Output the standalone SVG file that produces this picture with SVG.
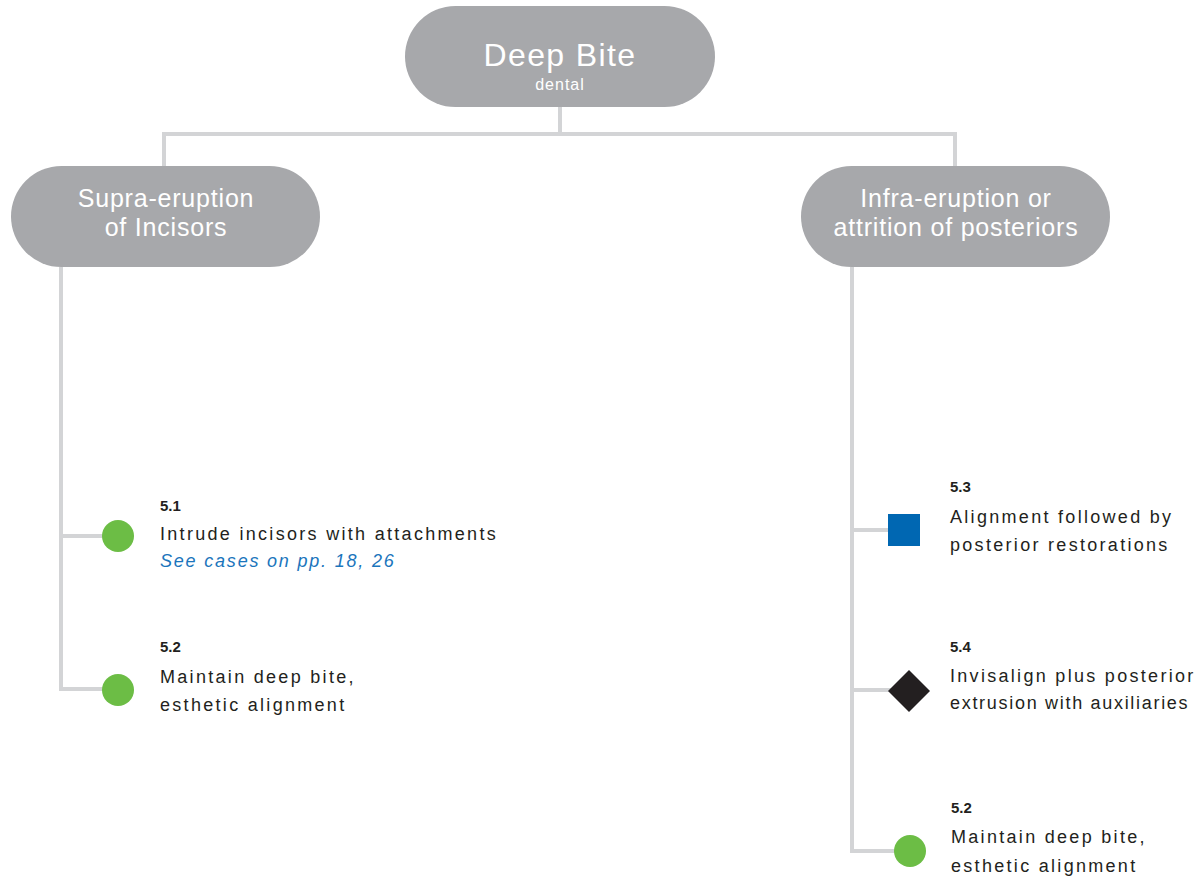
<svg xmlns="http://www.w3.org/2000/svg" width="1200" height="879" viewBox="0 0 1200 879">
<style>
.pill{fill:#a7a8ab}
.pt{font-family:"Liberation Sans",Arial,sans-serif;fill:#fff;text-anchor:middle}
.h2{font-size:25px;letter-spacing:0.8px}
.conn{fill:none;stroke:#d3d4d6;stroke-width:4}
.num{font-family:"Liberation Sans",Arial,sans-serif;font-weight:bold;font-size:15px;fill:#231f20}
.body{font-family:"Liberation Sans",Arial,sans-serif;font-size:18px;letter-spacing:2.3px;fill:#231f20}
.link{font-family:"Liberation Sans",Arial,sans-serif;font-size:18px;letter-spacing:1.8px;font-style:italic;fill:#1b75bc}
.green{fill:#6cbd45}
</style>
<rect width="1200" height="879" fill="#fff"/>
<g id="connectors" class="conn">
<path d="M560,107 V134 M164,166 V134 H955 V166"/>
<path d="M61,267 V689 H118 M61,536 H118"/>
<path d="M852,267 V851 H910 M852,530 H904 M852,690 H909"/>
</g>
<g id="deep-bite">
<rect class="pill" x="405" y="6" width="310" height="101" rx="50.5"/>
<text class="pt" x="560" y="66" style="font-size:32px;letter-spacing:1.4px">Deep Bite</text>
<text class="pt" x="560" y="90" style="font-size:16px;letter-spacing:1px">dental</text>
</g>
<g id="supra">
<rect class="pill" x="11" y="166" width="309" height="101" rx="50.5"/>
<text class="pt h2" x="166" y="207">Supra-eruption</text>
<text class="pt h2" x="166" y="236">of Incisors</text>
</g>
<g id="infra">
<rect class="pill" x="801" y="166" width="309" height="101" rx="50.5"/>
<text class="pt h2" x="956" y="207">Infra-eruption or</text>
<text class="pt h2" x="956" y="236">attrition of posteriors</text>
</g>
<g id="opt-5-1">
<circle class="green" cx="118" cy="536" r="16"/>
<text class="num" x="160" y="511">5.1</text>
<text class="body" x="160" y="540">Intrude incisors with attachments</text>
<text class="link" x="160" y="567">See cases on pp. 18, 26</text>
</g>
<g id="opt-5-2-left">
<circle class="green" cx="118" cy="690" r="16"/>
<text class="num" x="160" y="652">5.2</text>
<text class="body" x="160" y="683">Maintain deep bite,</text>
<text class="body" x="160" y="711">esthetic alignment</text>
</g>
<g id="opt-5-3">
<rect x="888" y="514" width="32" height="32" fill="#0067b2"/>
<text class="num" x="950" y="492">5.3</text>
<text class="body" x="950" y="523">Alignment followed by</text>
<text class="body" x="950" y="551">posterior restorations</text>
</g>
<g id="opt-5-4">
<polygon points="909,670 930,691 909,712 888,691" fill="#231f20"/>
<text class="num" x="950" y="652">5.4</text>
<text class="body" x="950" y="682">Invisalign plus posterior</text>
<text class="body" x="950" y="709" style="letter-spacing:1.7px">extrusion with auxiliaries</text>
</g>
<g id="opt-5-2-right">
<circle class="green" cx="910" cy="851" r="16"/>
<text class="num" x="951" y="813">5.2</text>
<text class="body" x="951" y="843">Maintain deep bite,</text>
<text class="body" x="951" y="872">esthetic alignment</text>
</g>
</svg>
